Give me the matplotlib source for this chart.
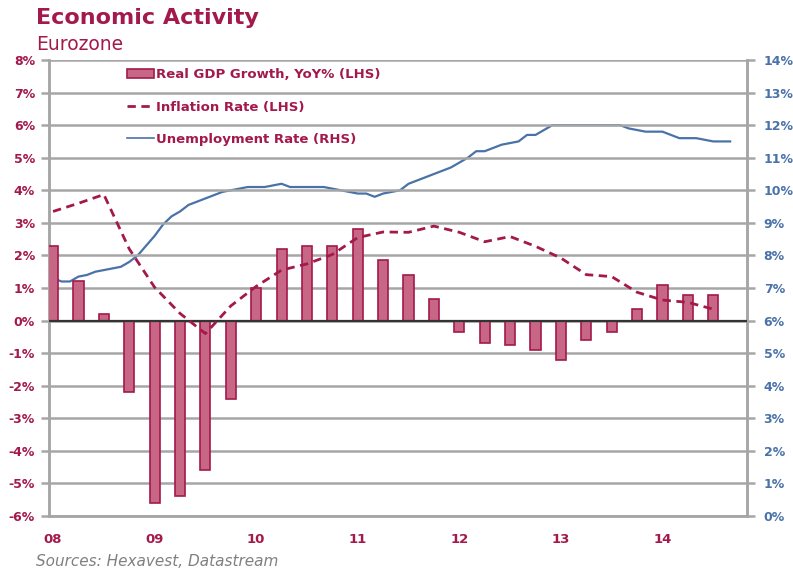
import numpy as np
import matplotlib.pyplot as plt

# quarterly series, 2008Q1 .. 2014Q3
gdp = [2.3, 1.2, 0.2, -2.2, -5.6, -5.4, -4.6, -2.4,
       1.0, 2.2, 2.3, 2.3, 2.8, 1.85, 1.4, 0.65,
       -0.35, -0.7, -0.75, -0.9, -1.2, -0.6, -0.35, 0.35,
       1.1, 0.8, 0.8]
inflation = [3.35, 3.6, 3.87, 2.2, 1.02, 0.22, -0.4, 0.45,
             1.05, 1.55, 1.74, 2.03, 2.55, 2.72, 2.71, 2.9,
             2.71, 2.42, 2.58, 2.28, 1.92, 1.41, 1.35, 0.87,
             0.63, 0.56, 0.35]
# monthly unemployment, Jan 2008 .. Sep 2014
unemployment = [7.3, 7.2, 7.2, 7.35, 7.4, 7.5, 7.55, 7.6, 7.65, 7.8, 8.0, 8.3,
                8.6, 8.95, 9.2, 9.35, 9.55, 9.65, 9.75, 9.85, 9.95, 10.0, 10.05, 10.1,
                10.1, 10.1, 10.15, 10.2, 10.1, 10.1, 10.1, 10.1, 10.1, 10.05, 10.0, 9.95,
                9.9, 9.9, 9.8, 9.9, 9.95, 10.0, 10.2, 10.3, 10.4, 10.5, 10.6, 10.7,
                10.85, 11.0, 11.2, 11.2, 11.3, 11.4, 11.45, 11.5, 11.7, 11.7, 11.85, 12.0,
                12.0, 12.0, 12.0, 12.0, 12.0, 12.0, 12.0, 12.0, 11.9, 11.85, 11.8, 11.8,
                11.8, 11.7, 11.6, 11.6, 11.6, 11.55, 11.5, 11.5, 11.5]
year_labels = ['08', '09', '10', '11', '12', '13', '14']

crimson = '#a3194b'
blue = '#4a72a8'
grid_grey = '#a6a6a6'

q = np.arange(len(gdp))
m = np.arange(len(unemployment)) / 3.0

fig = plt.figure(figsize=(7.93, 5.73), dpi=100)
ax = fig.add_axes([49 / 793, 57 / 573, 698 / 793, 456 / 573])
ax2 = ax.twinx()

ax.set_ylim(-6, 8)
ax2.set_ylim(0, 14)
ax.set_xlim(-0.16, 27.33)

ax.set_yticks(np.arange(-6, 9))
ax.set_yticklabels([f'{v}%' for v in range(-6, 9)])
ax2.set_yticks(np.arange(0, 15))
ax2.set_yticklabels([f'{v}%' for v in range(0, 15)])
ax.set_xticks(np.arange(0, 28, 4))
ax.set_xticklabels(year_labels)

ax.grid(axis='y', color=grid_grey, lw=1.8, zorder=0)
ax.set_axisbelow(True)
for a in (ax, ax2):
    for s in a.spines.values():
        s.set_color(grid_grey)
        s.set_linewidth(1.8)
    a.spines['top'].set_visible(False)
ax.tick_params(axis='y', colors=grid_grey, labelcolor=crimson, length=6, width=1.8, labelsize=9, pad=4)
ax2.tick_params(axis='y', colors=grid_grey, labelcolor=blue, length=6, width=1.8, labelsize=9, pad=6)
ax.tick_params(axis='x', length=0, labelcolor=crimson, labelsize=9.5, pad=12)
for lbl in ax.get_yticklabels() + ax2.get_yticklabels() + ax.get_xticklabels():
    lbl.set_fontweight('bold')

bars = ax.bar(q, gdp, width=0.4, color='#c86685', edgecolor=crimson, lw=1.2,
              zorder=3, label='Real GDP Growth, YoY% (LHS)')
ax.axhline(0, color='#333333', lw=1.6, zorder=4)
infl_line, = ax.plot(q, inflation, color=crimson, lw=2, dashes=(3, 2), zorder=5,
                     label='Inflation Rate (LHS)')
ax2.plot(m, unemployment, color=blue, lw=1.6, zorder=5)
unemp_handle, = ax.plot([], [], color=blue, lw=1.2, label='Unemployment Rate (RHS)')
ax.set_zorder(ax2.get_zorder() + 1)
ax.patch.set_visible(False)
ax2.patch.set_visible(True)

leg = ax.legend(handles=[bars, infl_line, unemp_handle],
                loc='upper left', bbox_to_anchor=(0.095, 1.008), frameon=False,
                handlelength=2.0, handletextpad=0.15, labelspacing=1.47,
                prop={'size': 9.5, 'weight': 'bold'})
for t in leg.get_texts():
    t.set_color(crimson)

fig.text(36 / 793, 1 - 18 / 573, 'Economic Activity', color=crimson, fontsize=16,
         fontweight='bold', va='center')
fig.text(36 / 793, 1 - 45 / 573, 'Eurozone', color=crimson, fontsize=13.5, va='center')
fig.text(36 / 793, 1 - 561 / 573, 'Sources: Hexavest, Datastream', color='#808080',
         fontsize=11, style='italic', va='center')

fig.savefig('out.png', dpi=100)
